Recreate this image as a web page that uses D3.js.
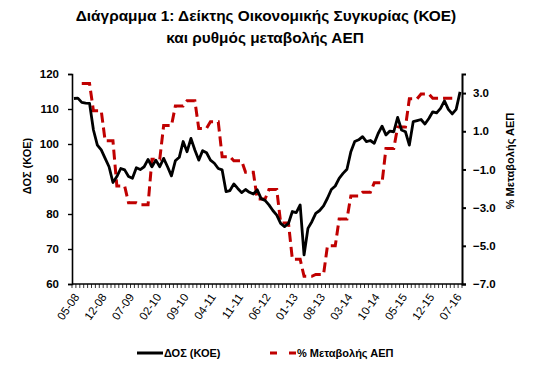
<!DOCTYPE html>
<html><head><meta charset="utf-8">
<script src="https://cdn.jsdelivr.net/npm/d3@7"></script>
<style>body{margin:0;background:#fff}svg{display:block}</style>
</head><body>
<svg id="c" width="542" height="369"></svg>
<script>
// ---- data ----
const startMonth = new Date(2008, 4, 1);   // 05-08
const endMonth = new Date(2016, 8, 1);     // exclusive -> last 08-16
const months = d3.timeMonth.range(startMonth, endMonth).map(d3.timeFormat("%m-%y"));
const tickLabels = ["05-08","12-08","07-09","02-10","09-10","04-11","11-11","06-12","01-13","08-13","03-14","10-14","05-15","12-15","07-16"];
const koe = [113.0,113.1,111.9,111.7,111.6,104.0,99.7,98.3,95.9,93.5,
  89.0,90.7,93.0,92.6,90.7,90.2,93.2,92.7,93.5,95.6,
  93.5,95.4,93.5,95.9,93.5,90.9,95.2,96.2,100.7,97.8,
  101.6,98.3,95.4,98.1,97.5,95.4,94.5,93.0,92.6,86.4,
  86.7,88.6,87.3,86.1,87.0,86.2,85.7,86.9,84.4,83.9,
  82.6,81.0,79.7,77.3,76.4,77.3,80.7,80.4,82.6,68.3,
  75.9,77.8,80.2,81.0,82.3,84.5,87.0,88.0,90.2,91.6,
  92.8,97.8,100.7,101.2,102.1,100.7,101.0,100.2,103.0,105.1,
  102.6,103.7,103.5,107.6,104.0,103.5,99.7,106.4,106.7,107.0,
  105.7,107.3,109.2,108.9,110.2,112.3,109.9,108.6,109.9,114.9];
// GDP % change (quarterly value shown on each month of its quarter)
const gdp = [null,null,
  3.5,3.5,3.5, 2.07,2.07,2.07, 0.5,0.5,0.5, -1.87,-1.87,-1.87,
  -2.75,-2.75,-2.75, -2.85,-2.85,-2.85, -0.47,-0.47,-0.47, 1.3,1.3,1.3,
  2.32,2.32,2.32, 2.6,2.6,2.6, 1.15,1.15,1.15, 1.5,1.5,1.5,
  -0.33,-0.33,-0.33, -0.55,-0.55,-0.55, -1.15,-1.15,-1.15, -2.55,-2.55,-2.55,
  -2.05,-2.05,-2.05, -3.8,-3.8,-3.8, -5.7,-5.7,-5.7, -6.6,-6.6,-6.6,
  -6.5,-6.5,-6.5, -5.0,-5.0,-5.0, -3.6,-3.6,-3.6, -2.39,-2.39,-2.39,
  -2.2,-2.2,-2.2, -1.7,-1.7,-1.7, 0.1,0.1,0.1, 1.22,1.22,1.22,
  2.7,2.7,2.7, 2.95,2.95,2.95, 2.73,2.73,2.73, 2.73,2.73,2.73,
  null,null];
const leftTicks = [60,70,80,90,100,110,120];
const rightTicks = [-7,-5,-3,-1,1,3];
const title1 = "Διάγραμμα 1: Δείκτης Οικονομικής Συγκυρίας (ΚΟΕ)";
const title2 = "και ρυθμός μεταβολής ΑΕΠ";
const leftTitle = "ΔΟΣ (ΚΟΕ)";
const rightTitle = "% Μεταβολής ΑΕΠ";

// ---- layout ----
const L = 72, R = 462, T = 74, B = 284;
const FONT = "'Liberation Sans', Arial, sans-serif";
const svg = d3.select("#c").style("font-family", FONT);

const x = d3.scaleBand().domain(months).range([L, R]).paddingInner(0).paddingOuter(0);
const cx = m => x(m) + x.bandwidth() / 2;
const yL = d3.scaleLinear().domain([60, 120]).range([B, T]);
const yR = d3.scaleLinear().domain([-7, 4]).range([B, T]);

// title
svg.append("text").attr("x", 266).attr("y", 21).attr("text-anchor", "middle")
  .attr("font-weight", "bold").attr("font-size", 15.4).attr("fill", "#000").text(title1);
svg.append("text").attr("x", 265).attr("y", 43).attr("text-anchor", "middle")
  .attr("font-weight", "bold").attr("font-size", 15.4).attr("fill", "#000").text(title2);

// left axis
const gL = svg.append("g").attr("transform", `translate(${L},0)`)
  .call(d3.axisLeft(yL).tickValues(leftTicks).tickSize(4).tickPadding(9).tickFormat(d3.format("d")));
gL.select(".domain").attr("stroke", "#000").attr("stroke-width", 1.6);
gL.selectAll(".tick line").attr("stroke", "#000").attr("stroke-width", 1.4);
gL.selectAll(".tick text").attr("font-family", FONT).attr("font-size", 11.5).attr("font-weight", "bold").attr("fill", "#000");

// right axis
const gR = svg.append("g").attr("transform", `translate(${R},0)`)
  .call(d3.axisRight(yR).tickValues(rightTicks).tickSize(4).tickPadding(7).tickFormat(d3.format(".1f")));
gR.select(".domain").attr("stroke", "#000").attr("stroke-width", 2);
gR.selectAll(".tick line").attr("stroke", "#000").attr("stroke-width", 2);
gR.selectAll(".tick text").attr("font-family", FONT).attr("font-size", 11.5).attr("font-weight", "bold").attr("fill", "#000");

// x axis
const gX = svg.append("g").attr("transform", `translate(0,${B})`);
gX.append("line").attr("x1", L).attr("x2", R).attr("stroke", "#000").attr("stroke-width", 1.6);
gX.selectAll("line.mt").data(months.concat(["__end"])).enter().append("line").attr("class", "mt")
  .attr("x1", (d, i) => L + i * x.bandwidth()).attr("x2", (d, i) => L + i * x.bandwidth())
  .attr("y1", 0).attr("y2", 4).attr("stroke", "#000").attr("stroke-width", 0.8);
gX.selectAll("text").data(tickLabels).enter().append("text")
  .attr("transform", d => `translate(${cx(d) + 6},${13}) rotate(-55)`)
  .attr("text-anchor", "end").attr("font-size", 11.5).attr("fill", "#000").text(d => d);

// axis titles
svg.append("text").attr("transform", `translate(31,166) rotate(-90)`).attr("text-anchor", "middle")
  .attr("font-size", 11).attr("font-weight", "bold").text(leftTitle);
svg.append("text").attr("transform", `translate(514,161) rotate(-90)`).attr("text-anchor", "middle")
  .attr("font-size", 11).attr("font-weight", "bold").text(rightTitle);

// lines
const lineGdp = d3.line().defined(d => d.v != null).x(d => cx(d.m)).y(d => yR(d.v));
svg.append("path").datum(months.map((m, i) => ({m, v: gdp[i]})))
  .attr("d", lineGdp).attr("fill", "none").attr("stroke", "#C00000").attr("stroke-width", 3)
  .attr("stroke-dasharray", "10,5");
const lineKoe = d3.line().x(d => cx(d.m)).y(d => yL(d.v));
svg.append("path").datum(months.map((m, i) => ({m, v: koe[i]})))
  .attr("d", lineKoe).attr("fill", "none").attr("stroke", "#000").attr("stroke-width", 2.8)
  .attr("stroke-linejoin", "round");

// legend
const lg = svg.append("g");
lg.append("line").attr("x1", 137).attr("x2", 163).attr("y1", 353).attr("y2", 353).attr("stroke", "#000").attr("stroke-width", 3);
lg.append("text").attr("x", 164).attr("y", 357).attr("font-size", 11).attr("font-weight", "bold").text(leftTitle);
lg.append("line").attr("x1", 270).attr("x2", 297).attr("y1", 353).attr("y2", 353).attr("stroke", "#C00000").attr("stroke-width", 3).attr("stroke-dasharray", "7,12");
lg.append("text").attr("x", 297).attr("y", 357).attr("font-size", 11).attr("font-weight", "bold").text(rightTitle);
</script>
</body></html>
